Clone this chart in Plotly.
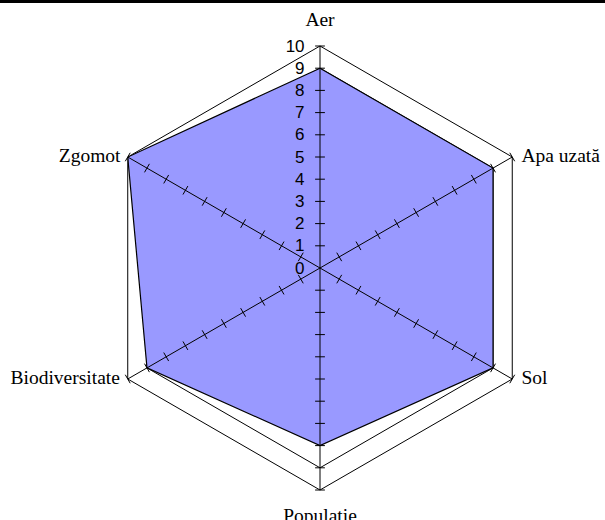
import plotly.graph_objects as go

categories = ["Aer", "Apa uzată", "Sol", "Populatie", "Biodiversitate", "Zgomot"]
values = [9, 9, 9, 8, 9, 10]
tick_values = [0, 1, 2, 3, 4, 5, 6, 7, 8, 9, 10]
bearings = [0, 60, 120, 180, 240, 300]  # clockwise from top, for tick mark orientation
label_positions = ["top center", "middle right", "middle right",
                   "bottom center", "middle left", "middle left"]
label_pads = [22, 13, 13, 26, 11, 10]  # invisible marker sizes used as label padding

fig = go.Figure()

# Filled area
fig.add_trace(go.Scatterpolar(
    r=values + [values[0]], theta=categories + [categories[0]],
    mode="lines", fill="toself", fillcolor="#9999FF",
    line=dict(color="black", width=1.2), hoverinfo="skip", showlegend=False))

# Spokes drawn above the fill
spoke_r, spoke_t = [], []
for c in categories:
    spoke_r += [0, tick_values[-1], None]
    spoke_t += [c, c, None]
fig.add_trace(go.Scatterpolar(
    r=spoke_r, theta=spoke_t, mode="lines",
    line=dict(color="black", width=1), hoverinfo="skip", showlegend=False))

# Tick marks on each spoke
tr, tt, ta = [], [], []
for c, b in zip(categories, bearings):
    for v in tick_values[1:]:
        tr.append(v)
        tt.append(c)
        ta.append(b + 90)
fig.add_trace(go.Scatterpolar(
    r=tr, theta=tt, mode="markers",
    marker=dict(symbol="line-ns", size=7, angle=ta,
                line=dict(color="black", width=1), color="black"),
    hoverinfo="skip", showlegend=False))

# Category labels at the ends of the spokes
fig.add_trace(go.Scatterpolar(
    r=[tick_values[-1]] * len(categories), theta=categories,
    mode="markers+text", text=categories, textposition=label_positions,
    textfont=dict(family="Liberation Serif, Times New Roman", size=19.5, color="black"),
    marker=dict(size=label_pads, opacity=0),
    cliponaxis=False, hoverinfo="skip", showlegend=False))

fig.update_layout(
    width=605, height=520,
    margin=dict(l=98, r=63, t=46, b=30),
    paper_bgcolor="white", plot_bgcolor="white",
    polar=dict(
        bgcolor="white",
        gridshape="linear",
        domain=dict(x=[0, 1], y=[0, 1]),
        radialaxis=dict(
            range=[0, 10], tickvals=tick_values, angle=90, tickangle=90,
            side="counterclockwise",
            showline=False, ticks="outside", ticklen=9, tickcolor="rgba(0,0,0,0)",
            showgrid=True, gridcolor="black", gridwidth=1,
            tickfont=dict(family="Liberation Sans, Arial", size=17, color="black"),
        ),
        angularaxis=dict(
            direction="clockwise", rotation=90,
            showline=True, linecolor="black", linewidth=1,
            showgrid=False, ticks="", showticklabels=False,
        ),
    ),
    shapes=[dict(type="rect", xref="paper", yref="paper",
                 x0=-98/444, x1=(605-98)/444, y0=1+43/444, y1=1+46/444,
                 fillcolor="black", line=dict(width=0))],
)

fig.write_html("out.html", config={"displayModeBar": False},
               post_script="document.body.style.margin='0px';")
